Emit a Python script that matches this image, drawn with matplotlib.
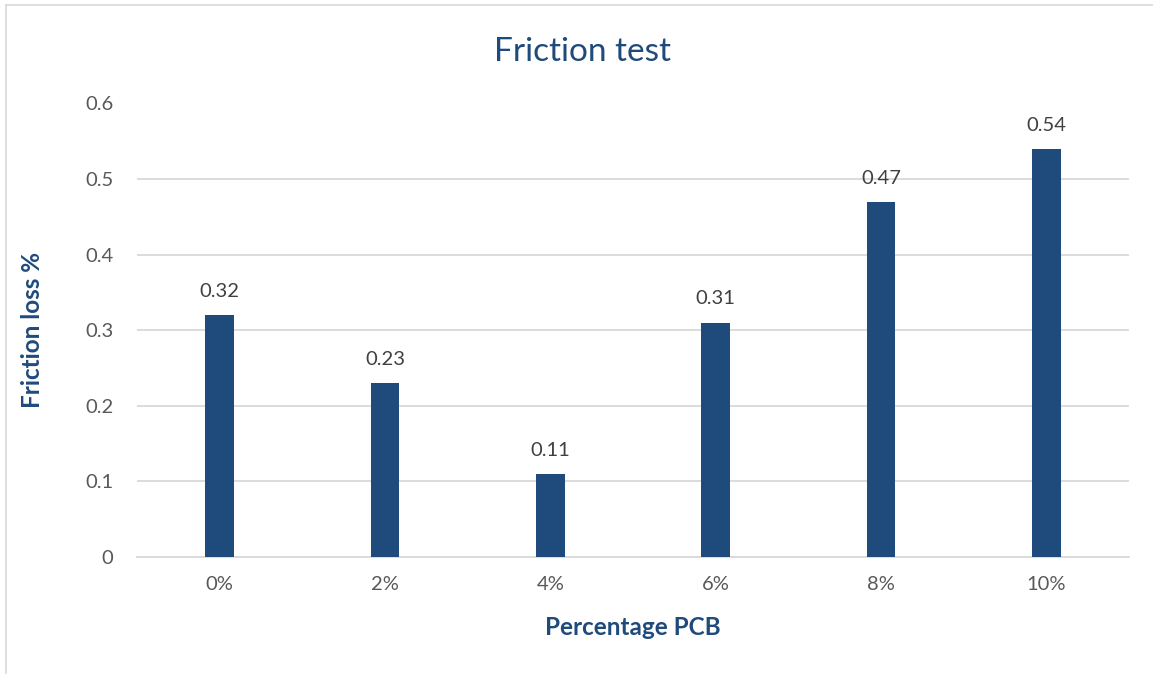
import matplotlib
matplotlib.use("Agg")
import matplotlib.pyplot as plt
from matplotlib.lines import Line2D

categories = ["0%", "2%", "4%", "6%", "8%", "10%"]
friction_loss = [0.32, 0.23, 0.11, 0.31, 0.47, 0.54]
y_ticks = [0, 0.1, 0.2, 0.3, 0.4, 0.5, 0.6]
y_tick_labels = ["0", "0.1", "0.2", "0.3", "0.4", "0.5", "0.6"]

BAR = "#1F4A7C"
TITLE = "#1F4A7C"
TICK = "#595959"
GRID = "#D9D9D9"

plt.rcParams["font.family"] = ["Lato", "DejaVu Sans"]

W, H = 1153, 674
fig = plt.figure(figsize=(W / 100, H / 100), dpi=100)

# chart border (only left and top edges visible in the crop)
fig.add_artist(Line2D([6 / W, 6 / W], [0, 1 - 5 / H], color=GRID, lw=1.2,
                      transform=fig.transFigure))
fig.add_artist(Line2D([6 / W, 1], [1 - 5 / H, 1 - 5 / H], color=GRID, lw=1.2,
                      transform=fig.transFigure))

ax = fig.add_axes([137 / W, (H - 556.7) / H, (1129 - 137) / W, (556.7 - 103.5) / H])

x = list(range(len(categories)))
bars = ax.bar(x, friction_loss, width=0.175, color=BAR, zorder=3)

for b, v in zip(bars, friction_loss):
    ax.annotate(f"{v:.2f}", (b.get_x() + b.get_width() / 2, v),
                xytext=(0, 13), textcoords="offset points",
                ha="center", va="baseline", fontsize=14.5, color="#404040")

ax.set_xlim(-0.5, len(categories) - 0.5)
ax.set_ylim(0, 0.6)
ax.set_yticks(y_ticks)
ax.set_yticklabels(y_tick_labels)
ax.set_xticks(x)
ax.set_xticklabels(categories)
ax.tick_params(axis="both", length=0, labelsize=14.5, colors=TICK)
ax.tick_params(axis="y", pad=17)
ax.tick_params(axis="x", pad=14)
ax.grid(axis="y", color=GRID, lw=1.3, zorder=0)
for s in ["left", "right", "top"]:
    ax.spines[s].set_visible(False)
ax.spines["bottom"].set_color(GRID)
ax.spines["bottom"].set_linewidth(1.3)

fig.text(583 / W, 1 - 61 / H, "Friction test", ha="center", va="baseline",
         fontsize=24, color=TITLE)
fig.text(633 / W, 1 - 635 / H, "Percentage PCB", ha="center", va="baseline",
         fontsize=17.5, fontweight="bold", color=TITLE)
fig.text(33 / W, 1 - 330 / H, "Friction loss %", ha="center", va="center",
         rotation=90, fontsize=17.5, fontweight="bold", color=TITLE)

fig.savefig("out.png", dpi=100)
